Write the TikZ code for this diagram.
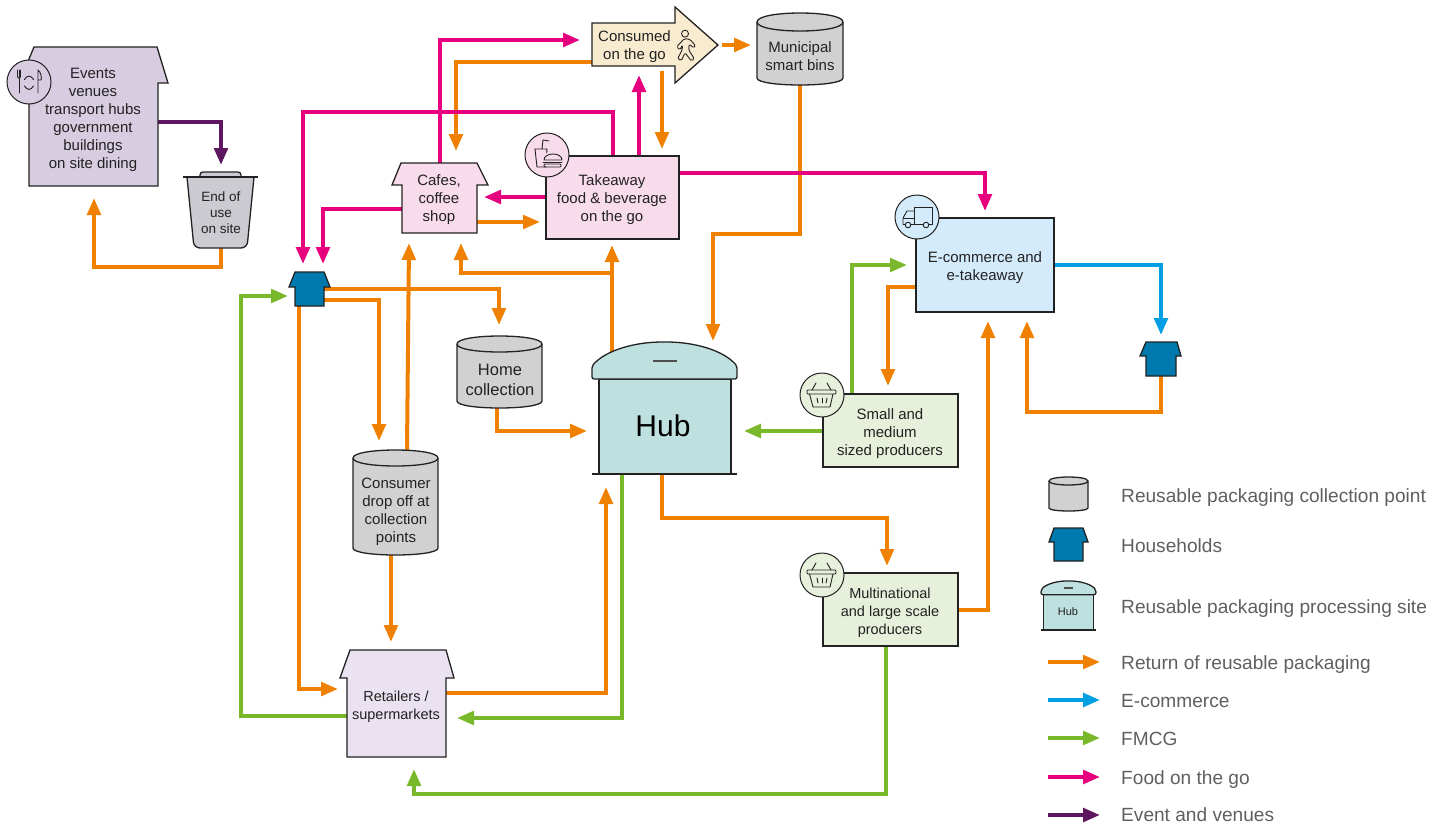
\documentclass[tikz,border=0pt]{standalone}
\usepackage{fontspec}
\setmainfont{Liberation Sans}
\usetikzlibrary{arrows.meta,fit,shapes.geometric}
\pgfdeclarelayer{bg}\pgfsetlayers{bg,main}
\definecolor{cOrange}{HTML}{F08000}
\definecolor{cGreen}{HTML}{78B82A}
\definecolor{cPink}{HTML}{E6007E}
\definecolor{cBlue}{HTML}{009FE3}
\definecolor{cPurple}{HTML}{5F1660}
\definecolor{cEvents}{HTML}{D8CCE0}
\definecolor{cBin}{HTML}{CCCBD1}
\definecolor{cCons}{HTML}{F9EBCF}
\definecolor{cFood}{HTML}{F9DCEB}
\definecolor{cEcom}{HTML}{D3EBFB}
\definecolor{cProd}{HTML}{E7F0DB}
\definecolor{cRetail}{HTML}{EAE2F0}
\definecolor{cHub}{HTML}{BEE0DF}
\definecolor{cHouse}{HTML}{0079AE}
\definecolor{cCyl}{HTML}{D1D1D1}
\definecolor{cInk}{HTML}{222222}
\definecolor{cLegend}{HTML}{5F5F5F}
\tikzset{
  flow/.style={line width=4pt,-{Triangle[length=17pt,width=13.5pt]},line join=miter},
  ora/.style={flow,cOrange}, gre/.style={flow,cGreen}, blu/.style={flow,cBlue},
  pin/.style={flow,cPink}, pur/.style={flow,cPurple},
  outline/.style={draw=cInk,line width=1.3pt,line join=miter},
  frame/.style={inner sep=0pt,outer sep=0pt,draw=none},
  txt/.style={align=center,inner sep=0pt,text=cInk,font=\fontsize{15}{18}\selectfont},
  leg/.style={anchor=base west,inner sep=0pt,text=cLegend,font=\fontsize{19.1}{22}\selectfont},
  badge/.style={circle,draw=cInk,line width=1pt,minimum size=44pt,inner sep=0pt},
  ico/.style={draw=cInk,line width=0.9pt,line join=round,line cap=round},
}
% name, L, T, R, B, ry, bottom bulge
\newcommand{\cylshape}[7]{%
  \pgfmathsetmacro{\cya}{#3+#6}\pgfmathsetmacro{\cyb}{#5-#7}%
  \pgfmathsetmacro{\cyc}{#3-#6/3}\pgfmathsetmacro{\cyd}{#5+#7/3}%
  \pgfmathsetmacro{\cye}{#3+#6+#6*4/3}%
  \path[outline,fill=cCyl] (#2,\cya) -- (#2,\cyb) .. controls (#2,\cyd) and (#4,\cyd) .. (#4,\cyb) -- (#4,\cya)
     .. controls (#4,\cyc) and (#2,\cyc) .. (#2,\cya) -- cycle;
  \path[outline] (#2,\cya) .. controls (#2,\cye) and (#4,\cye) .. (#4,\cya);
  \node[frame,fit={(#2,#3)(#4,#5)}] (#1) {};%
}
% name fill topL topR topY eaveL eaveR eaveY bodyL bodyR botY
\newcommand{\houseshape}[9]{%
  \def\hsname{#1}\def\hsfill{#2}\def\hsa{#3}\def\hsb{#4}\def\hsc{#5}\def\hsd{#6}\def\hse{#7}\def\hsf{#8}\def\hsg{#9}\housecont}
\newcommand{\housecont}[2]{%
  \path[outline,fill=\hsfill] (\hsa,\hsc) -- (\hsb,\hsc) -- (\hse,\hsf) -- (#1,\hsf) -- (#1,#2) -- (\hsg,#2) -- (\hsg,\hsf) -- (\hsd,\hsf) -- cycle;
  \node[frame,fit={(\hsg,\hsc)(#1,#2)}] (\hsname) {};%
}
\newcommand{\hubpaths}{%
  \path[outline,fill=cHub] (599,379) rectangle (731,474);
  \path[outline] (592,474) -- (737,474);
  \path[outline,fill=cHub,rounded corners=2pt] (592,379) -- (592,366) .. controls (606,350) and (635,342) .. (664.5,342) .. controls (694,342) and (723,350) .. (737,366) -- (737,379) -- cycle;
  \path[draw=cInk!80,line width=1.4pt] (653,361) -- (677,361);
}
\begin{document}
\begin{tikzpicture}[x=1pt,y=-1pt]
\useasboundingbox (0,0) rectangle (1446,827);

% ---- Shapes
\houseshape{events}{cEvents}{34}{157}{47}{19}{168}{83}{29}{158}{186}
\node[txt] (eventsT) at (93,120) {Events\\venues\\transport hubs\\government\\buildings\\on site dining};
\node[badge,fill=cEvents] (eventsI) at (29,82) {};
\begin{scope}[shift={(29,82)}]
  \path[ico] (-11.5,-12) -- (-11.5,-6) .. controls (-11.5,-3) and (-8.5,-3) .. (-8.5,-6) -- (-8.5,-12);
  \path[ico] (-10,-12) -- (-10,-3); \path[ico] (-10,-4) -- (-10,11);
  \path[ico] (9,11) -- (9,-12) .. controls (12,-10) and (13,-4) .. (12,-2) -- (9,-2);
  \path[ico] (-4.5,-2.5) .. controls (-2,-7) and (2,-7) .. (4.5,-2.5);
  \path[ico] (-4.5,4) .. controls (-2,8.5) and (2,8.5) .. (4.5,4);
\end{scope}

% bin
\path[outline,fill=cBin,rounded corners=3pt] (200,178) -- (200,172) -- (241,172) -- (241,178);
\path[outline,fill=cBin,rounded corners=6pt] (187,177) -- (194,248) -- (247,248) -- (254,177);
\path[outline] (183,177) -- (258,177);
\node[frame,fit={(183,172)(258,248)}] (bin) {};
\node[txt,font=\fontsize{13.5}{16}\selectfont] (binT) at (221,213) {End of\\use\\on site};

% consumed
\path[outline,fill=cCons] (592,23) -- (675,23) -- (675,7) -- (718,45) -- (675,83) -- (675,66) -- (592,66) -- cycle;
\node[frame,fit={(592,7)(718,83)}] (consumed) {};
\node[txt] (consumedT) at (634.5,47) {Consumed\\on the go};
\begin{scope}[shift={(665,22)},scale=1/3]
  \draw[ico] (60,35) circle (10.5);
  \path[ico,rounded corners=1.5pt] (58,50) -- (75,52) -- (92,72) -- (86,78) -- (73,66) -- (71,84) -- (88,110) -- (79,117) -- (60,92) -- (49,116) -- (38,110) -- (52,82) -- (52,68) -- (45,84) -- (35,74) -- cycle;
\end{scope}

\cylshape{municipal}{757}{13}{843}{85}{9}{7}
\node[txt] (municipalT) at (800,56) {Municipal\\smart bins};

% cafes
\houseshape{cafes}{cFood}{401}{477}{163}{392}{488}{185}{402}{477}{233}
\node[txt] (cafesT) at (439,200) {Cafes,\\coffee\\shop};

% takeaway
\path[outline,fill=cFood] (546,156) rectangle (679,239);
\node[frame,fit={(546,156)(679,239)}] (take) {};
\node[txt] (takeT) at (612,199.5) {Takeaway\\food \& beverage\\on the go};
\node[badge,fill=cFood] (takeI) at (547,155) {};
\begin{scope}[shift={(547,155)}]
  \path[ico] (-12,-6) -- (-10,12) -- (-1,12);
  \path[ico] (-12,-6) -- (0,-6) -- (-0.3,-2);
  \path[ico] (-5,-6) -- (-4,-15) -- (2,-14);
  \path[ico] (-3,5) .. controls (-3,-3) and (15,-3) .. (15,5) -- cycle;
  \path[ico] (-4,7) -- (15,7);
  \path[ico,rounded corners=1pt] (-3,9) -- (-3,12) -- (14,12) -- (14,9) -- cycle;
\end{scope}

% e-commerce
\path[outline,fill=cEcom] (916,218) rectangle (1054,312);
\node[frame,fit={(916,218)(1054,312)}] (ecom) {};
\node[txt] (ecomT) at (985,268) {E-commerce and\\e-takeaway};
\node[badge,fill=cEcom] (ecomI) at (917,217) {};
\begin{scope}[shift={(917,217)}]
  \path[ico] (-3,7.5) -- (-3,-10) -- (15,-10) -- (15,7.5) -- (12,7.5);
  \path[ico] (6,7.5) -- (-6,7.5);
  \path[ico] (-3,-6) -- (-10,-6) -- (-14,1) -- (-14,7.5) -- (-12,7.5);
  \path[ico] (-13.5,1) -- (-3,1);
  \draw[ico] (-9,8) circle (2.8);
  \draw[ico] (9,8) circle (2.8);
\end{scope}

% households
\houseshape{hhone}{cHouse}{295}{324}{272}{289}{330}{287}{295}{324}{306}
\houseshape{hhtwo}{cHouse}{1146}{1177}{342}{1140}{1181}{356}{1146}{1176}{376}

% producers
\path[outline,fill=cProd] (823,394) rectangle (958,467);
\node[frame,fit={(823,394)(958,467)}] (small) {};
\node[txt] (smallT) at (890,434) {Small and\\medium\\sized producers};
\node[badge,fill=cProd] (smallI) at (822,395) {};
\path[outline,fill=cProd] (823,573) rectangle (958,646);
\node[frame,fit={(823,573)(958,646)}] (multi) {};
\node[txt,font=\fontsize{14.5}{18}\selectfont] (multiT) at (890,612.5) {Multinational\\and large scale\\producers};
\node[badge,fill=cProd] (multiI) at (822,575) {};
\foreach \bx/\by in {822/395,822/575}{
\begin{scope}[shift={(\bx,\by)}]
  \path[ico,rounded corners=1pt] (-15,-5) rectangle (14,-1);
  \path[ico] (-12.5,-1) -- (-9,12) -- (8,12) -- (11,-1);
  \path[ico] (-10,-5) -- (-6,-12);
  \path[ico] (9,-5) -- (5,-12);
  \path[ico] (-5,3) -- (-4,8);
  \path[ico] (0,3) -- (0,8);
  \path[ico] (5,3) -- (4,8);
\end{scope}}

% retailers
\houseshape{retail}{cRetail}{350}{446}{650}{340}{454}{678}{347}{446}{757}
\node[txt,font=\fontsize{14.5}{18}\selectfont] (retailT) at (396,707) {Retailers /\\supermarkets};

% cylinders
\cylshape{home}{457}{336}{542}{408}{8}{7}
\node[txt,font=\fontsize{16.5}{20}\selectfont] (homeT) at (500,380) {Home\\collection};
\cylshape{cons}{353}{450}{438}{555}{8}{7}
\node[txt] (consT) at (396,511.5) {Consumer\\drop off at\\collection\\points};

% hub
\hubpaths
\node[frame,fit={(599,342)(731,474)}] (hub) {};
\node[txt,font=\fontsize{30}{36}\selectfont,text=black] (hubT) at (663,426) {Hub};

% ---- Connectors
\begin{pgfonlayer}{bg}
\draw[ora] ([shift={(38,76)}]bin.north west) -- ++(0,19) -| ([shift={(65,151)}]events.north west);
\draw[ora] ([shift={(0,55)}]consumed.north west) -| ([shift={(54,-12)}]cafes.north west);
\draw[ora] ([shift={(70,64)}]consumed.north west) -- ([shift={(116,-7)}]take.north west);
\draw[ora] ([shift={(130,38)}]consumed.north west) -- ([shift={(-6,32)}]municipal.north west);
\draw[ora] ([shift={(0,59)}]cafes.north east) -- ([shift={(-6,66)}]take.north west);
\draw[ora] ([shift={(43,72)}]municipal.north west) -- ++(0,149) -| ([shift={(114,-1)}]hub.north west);
\draw[ora] ([shift={(13,10)}]hub.north west) -- ([shift={(66,89)}]take.north west);
\draw[ora] ([shift={(13,-69)}]hub.north west) -| ([shift={(59,80)}]cafes.north west);
\draw[ora] ([shift={(54,0)}]cons.north west) -- ([shift={(7,80)}]cafes.north west);
\draw[ora] ([shift={(29,17)}]hhone.north west) -| ([shift={(42,-11)}]home.north west);
\draw[ora] ([shift={(29,28)}]hhone.north west) -| ([shift={(26,-9)}]cons.north west);
\draw[ora] ([shift={(4,34)}]hhone.north west) |- ([shift={(-9,39)}]retail.north west);
\draw[ora] ([shift={(38,105)}]cons.north west) -- ([shift={(44,-8)}]retail.north west);
\draw[ora] ([shift={(99,43)}]retail.north west) -| ([shift={(7,145)}]hub.north west);
\draw[ora] ([shift={(63,132)}]hub.north west) -- ++(0,44) -| ([shift={(64,-7)}]multi.north west);
\draw[ora] ([shift={(40,72)}]home.north west) |- ([shift={(-12,89)}]hub.north west);
\draw[ora] ([shift={(0,69)}]ecom.north west) -| ([shift={(65,-8)}]small.north west);
\draw[ora] ([shift={(135,37)}]multi.north west) -| ([shift={(72,103)}]ecom.north west);
\draw[ora] ([shift={(15,34)}]hhtwo.north west) -- ++(0,36) -| ([shift={(111,103)}]ecom.north west);
\draw[gre] ([shift={(0,66)}]retail.north west) -- ++(-106,0) |- ([shift={(-7,24)}]hhone.north west);
\draw[gre] ([shift={(23,132)}]hub.north west) |- ([shift={(11,68)}]retail.north east);
\draw[gre] ([shift={(63,73)}]multi.north west) -- ++(0,148) -| ([shift={(67,119)}]retail.north west);
\draw[gre] ([shift={(0,37)}]small.north west) -- ([shift={(145,89)}]hub.north west);
\draw[gre] ([shift={(29,0)}]small.north west) |- ([shift={(-9,47)}]ecom.north west);
\draw[blu] ([shift={(138,47)}]ecom.north west) -| ([shift={(15,-7)}]hhtwo.north west);
\draw[pin] ([shift={(38,0)}]cafes.north west) |- ([shift={(-12,33)}]consumed.north west);
\draw[pin] ([shift={(67,0)}]take.north west) -- ++(0,-44) -| ([shift={(8,-8)}]hhone.north west);
\draw[pin] ([shift={(93,0)}]take.north west) -- ([shift={(47,68)}]consumed.north west);
\draw[pin] ([shift={(133,17)}]take.north west) -| ([shift={(69,-7)}]ecom.north west);
\draw[pin] ([shift={(0,41)}]take.north west) -- ([shift={(82,34)}]cafes.north west);
\draw[pin] ([shift={(0,46)}]cafes.north west) -| ([shift={(28,-8)}]hhone.north west);
\draw[pur] ([shift={(129,75)}]events.north west) -| ([shift={(38,-7)}]bin.north west);
\end{pgfonlayer}

% ---- Legend
\cylshape{legCyl}{1049}{477}{1088}{511}{4}{3}
\houseshape{legHouse}{cHouse}{1054}{1083}{528}{1049}{1088}{542}{1054}{1083}{561}
\begin{scope}[shift={(816.6,454.1)},xscale=.379,yscale=.371]
  \hubpaths
  \node[frame,fit={(599,342)(731,474)}] (legHub) {};
\end{scope}
\node[txt,font=\fontsize{11}{13}\selectfont] (legHubT) at (1068,612) {Hub};
\foreach \nm/\ly/\st in {a/662/ora,b/700/blu,c/738/gre,d/777/pin,e/815/pur}{
  \coordinate (leg\nm s) at (1048,\ly);
  \coordinate (leg\nm e) at (1100,\ly);
  \draw[\st] (leg\nm s) -- (leg\nm e);
}
\node[leg] (lt1) at (1121,502) {Reusable packaging collection point};
\node[leg] (lt2) at (1121,552) {Households};
\node[leg] (lt3) at (1121,613) {Reusable packaging processing site};
\node[leg] (lt4) at (1121,669.5) {Return of reusable packaging};
\node[leg] (lt5) at (1121,707.7) {E-commerce};
\node[leg] (lt6) at (1121,745.7) {FMCG};
\node[leg] (lt7) at (1121,784) {Food on the go};
\node[leg] (lt8) at (1121,821.7) {Event and venues};
\end{tikzpicture}
\end{document}
